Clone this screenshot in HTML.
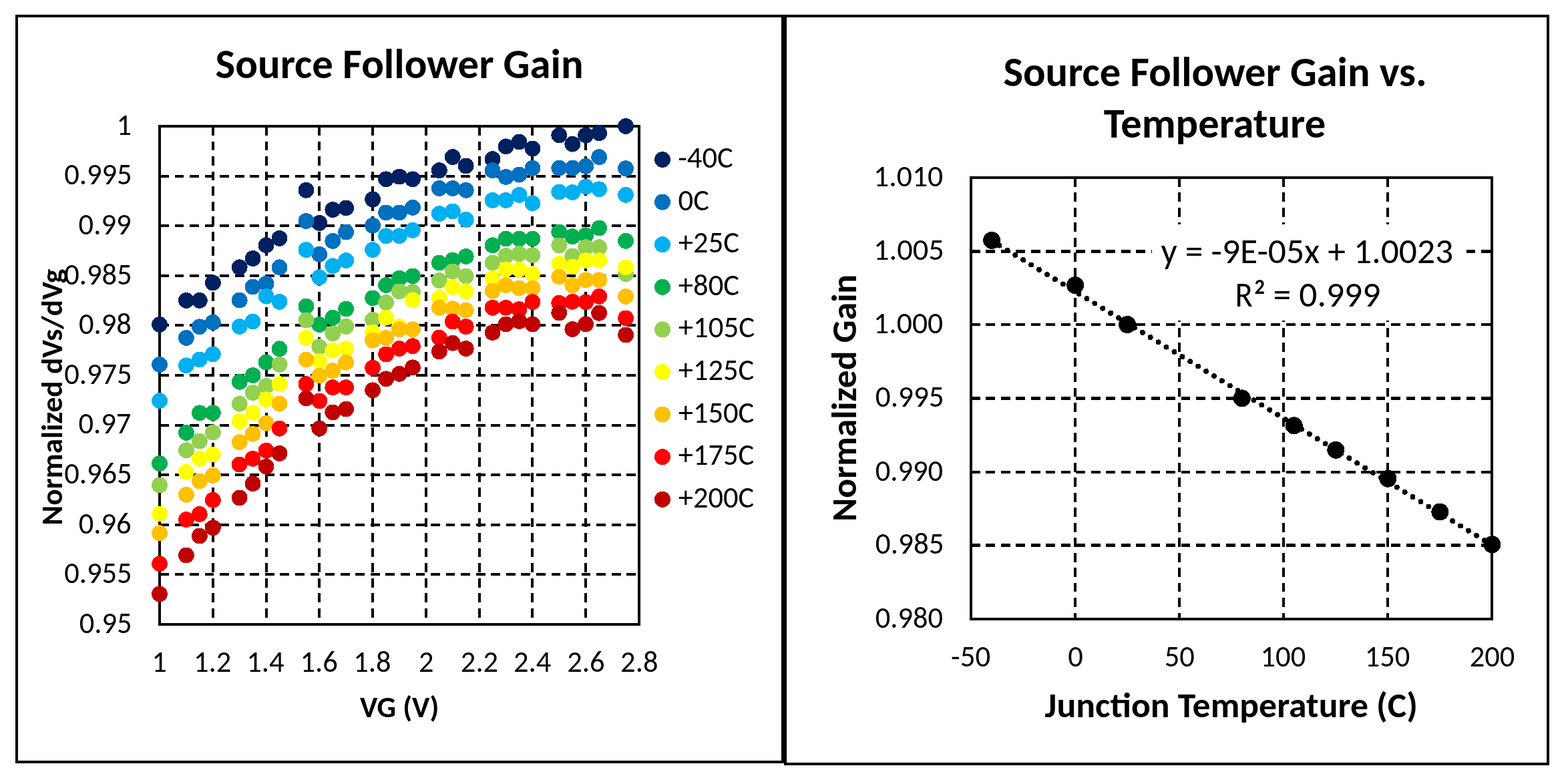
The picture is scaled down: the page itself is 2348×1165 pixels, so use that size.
<!DOCTYPE html>
<html><head><meta charset="utf-8"><title>Source Follower Gain</title>
<style>html,body{margin:0;padding:0;background:#fff;width:2348px;height:1165px;overflow:hidden}</style>
</head><body>
<svg width="2348" height="1165" viewBox="0 0 2348 1165" style="display:block" shape-rendering="crispEdges">
<rect x="0" y="0" width="2348" height="1165" fill="#fff"/>
<g font-family="Carlito, 'Liberation Sans', Arial, sans-serif" fill="#000">
<rect x="25" y="24" width="1146.5" height="1117" fill="none" stroke="#000" stroke-width="4"/>
<line x1="318.78" y1="189.0" x2="318.78" y2="935.0" stroke="#000" stroke-width="4" stroke-dasharray="13.8 8.76"/>
<line x1="398.56" y1="189.0" x2="398.56" y2="935.0" stroke="#000" stroke-width="4" stroke-dasharray="13.8 8.76"/>
<line x1="478.33" y1="189.0" x2="478.33" y2="935.0" stroke="#000" stroke-width="4" stroke-dasharray="13.8 8.76"/>
<line x1="558.11" y1="189.0" x2="558.11" y2="935.0" stroke="#000" stroke-width="4" stroke-dasharray="13.8 8.76"/>
<line x1="637.89" y1="189.0" x2="637.89" y2="935.0" stroke="#000" stroke-width="4" stroke-dasharray="13.8 8.76"/>
<line x1="717.67" y1="189.0" x2="717.67" y2="935.0" stroke="#000" stroke-width="4" stroke-dasharray="13.8 8.76"/>
<line x1="797.44" y1="189.0" x2="797.44" y2="935.0" stroke="#000" stroke-width="4" stroke-dasharray="13.8 8.76"/>
<line x1="877.22" y1="189.0" x2="877.22" y2="935.0" stroke="#000" stroke-width="4" stroke-dasharray="13.8 8.76"/>
<line x1="239.0" y1="263.60" x2="957.0" y2="263.60" stroke="#000" stroke-width="4" stroke-dasharray="13.8 8.76"/>
<line x1="239.0" y1="338.20" x2="957.0" y2="338.20" stroke="#000" stroke-width="4" stroke-dasharray="13.8 8.76"/>
<line x1="239.0" y1="412.80" x2="957.0" y2="412.80" stroke="#000" stroke-width="4" stroke-dasharray="13.8 8.76"/>
<line x1="239.0" y1="487.40" x2="957.0" y2="487.40" stroke="#000" stroke-width="4" stroke-dasharray="13.8 8.76"/>
<line x1="239.0" y1="562.00" x2="957.0" y2="562.00" stroke="#000" stroke-width="4" stroke-dasharray="13.8 8.76"/>
<line x1="239.0" y1="636.60" x2="957.0" y2="636.60" stroke="#000" stroke-width="4" stroke-dasharray="13.8 8.76"/>
<line x1="239.0" y1="711.20" x2="957.0" y2="711.20" stroke="#000" stroke-width="4" stroke-dasharray="13.8 8.76"/>
<line x1="239.0" y1="785.80" x2="957.0" y2="785.80" stroke="#000" stroke-width="4" stroke-dasharray="13.8 8.76"/>
<line x1="239.0" y1="860.40" x2="957.0" y2="860.40" stroke="#000" stroke-width="4" stroke-dasharray="13.8 8.76"/>
<rect x="239.0" y="189.0" width="718.0" height="746.0" fill="none" stroke="#000" stroke-width="4"/>
<circle cx="239.0" cy="485.9" r="11.9" fill="#002060"/>
<circle cx="278.9" cy="449.9" r="11.9" fill="#002060"/>
<circle cx="298.8" cy="449.9" r="11.9" fill="#002060"/>
<circle cx="318.8" cy="423.5" r="11.9" fill="#002060"/>
<circle cx="358.7" cy="400.3" r="11.9" fill="#002060"/>
<circle cx="378.6" cy="387.0" r="11.9" fill="#002060"/>
<circle cx="398.6" cy="367.2" r="11.9" fill="#002060"/>
<circle cx="418.5" cy="356.8" r="11.9" fill="#002060"/>
<circle cx="458.4" cy="284.8" r="11.9" fill="#002060"/>
<circle cx="478.3" cy="333.9" r="11.9" fill="#002060"/>
<circle cx="498.3" cy="314.0" r="11.9" fill="#002060"/>
<circle cx="518.2" cy="311.4" r="11.9" fill="#002060"/>
<circle cx="558.1" cy="298.5" r="11.9" fill="#002060"/>
<circle cx="578.1" cy="268.3" r="11.9" fill="#002060"/>
<circle cx="598.0" cy="264.6" r="11.9" fill="#002060"/>
<circle cx="617.9" cy="268.3" r="11.9" fill="#002060"/>
<circle cx="657.8" cy="255.2" r="11.9" fill="#002060"/>
<circle cx="677.8" cy="235.1" r="11.9" fill="#002060"/>
<circle cx="697.7" cy="248.4" r="11.9" fill="#002060"/>
<circle cx="737.6" cy="238.2" r="11.9" fill="#002060"/>
<circle cx="757.6" cy="219.3" r="11.9" fill="#002060"/>
<circle cx="777.5" cy="212.5" r="11.9" fill="#002060"/>
<circle cx="797.4" cy="222.5" r="11.9" fill="#002060"/>
<circle cx="837.3" cy="202.5" r="11.9" fill="#002060"/>
<circle cx="857.3" cy="215.7" r="11.9" fill="#002060"/>
<circle cx="877.2" cy="202.5" r="11.9" fill="#002060"/>
<circle cx="897.2" cy="199.3" r="11.9" fill="#002060"/>
<circle cx="937.1" cy="188.9" r="11.9" fill="#002060"/>
<circle cx="239.0" cy="545.9" r="11.9" fill="#0070C0"/>
<circle cx="278.9" cy="505.9" r="11.9" fill="#0070C0"/>
<circle cx="298.8" cy="489.3" r="11.9" fill="#0070C0"/>
<circle cx="318.8" cy="482.7" r="11.9" fill="#0070C0"/>
<circle cx="358.7" cy="449.6" r="11.9" fill="#0070C0"/>
<circle cx="378.6" cy="429.5" r="11.9" fill="#0070C0"/>
<circle cx="398.6" cy="424.8" r="11.9" fill="#0070C0"/>
<circle cx="418.5" cy="400.3" r="11.9" fill="#0070C0"/>
<circle cx="458.4" cy="331.0" r="11.9" fill="#0070C0"/>
<circle cx="478.3" cy="380.7" r="11.9" fill="#0070C0"/>
<circle cx="498.3" cy="360.9" r="11.9" fill="#0070C0"/>
<circle cx="518.2" cy="347.6" r="11.9" fill="#0070C0"/>
<circle cx="558.1" cy="337.6" r="11.9" fill="#0070C0"/>
<circle cx="578.1" cy="318.4" r="11.9" fill="#0070C0"/>
<circle cx="598.0" cy="318.4" r="11.9" fill="#0070C0"/>
<circle cx="617.9" cy="310.8" r="11.9" fill="#0070C0"/>
<circle cx="657.8" cy="282.0" r="11.9" fill="#0070C0"/>
<circle cx="677.8" cy="282.0" r="11.9" fill="#0070C0"/>
<circle cx="697.7" cy="284.8" r="11.9" fill="#0070C0"/>
<circle cx="737.6" cy="255.2" r="11.9" fill="#0070C0"/>
<circle cx="757.6" cy="265.0" r="11.9" fill="#0070C0"/>
<circle cx="777.5" cy="261.6" r="11.9" fill="#0070C0"/>
<circle cx="797.4" cy="251.8" r="11.9" fill="#0070C0"/>
<circle cx="837.3" cy="251.6" r="11.9" fill="#0070C0"/>
<circle cx="857.3" cy="251.6" r="11.9" fill="#0070C0"/>
<circle cx="877.2" cy="248.9" r="11.9" fill="#0070C0"/>
<circle cx="897.2" cy="235.2" r="11.9" fill="#0070C0"/>
<circle cx="937.1" cy="252.2" r="11.9" fill="#0070C0"/>
<circle cx="239.0" cy="600.1" r="11.9" fill="#00B0F0"/>
<circle cx="278.9" cy="547.3" r="11.9" fill="#00B0F0"/>
<circle cx="298.8" cy="538.4" r="11.9" fill="#00B0F0"/>
<circle cx="318.8" cy="530.4" r="11.9" fill="#00B0F0"/>
<circle cx="358.7" cy="489.0" r="11.9" fill="#00B0F0"/>
<circle cx="378.6" cy="481.5" r="11.9" fill="#00B0F0"/>
<circle cx="398.6" cy="443.7" r="11.9" fill="#00B0F0"/>
<circle cx="418.5" cy="451.8" r="11.9" fill="#00B0F0"/>
<circle cx="458.4" cy="374.1" r="11.9" fill="#00B0F0"/>
<circle cx="478.3" cy="415.3" r="11.9" fill="#00B0F0"/>
<circle cx="498.3" cy="398.3" r="11.9" fill="#00B0F0"/>
<circle cx="518.2" cy="390.1" r="11.9" fill="#00B0F0"/>
<circle cx="558.1" cy="374.1" r="11.9" fill="#00B0F0"/>
<circle cx="578.1" cy="353.3" r="11.9" fill="#00B0F0"/>
<circle cx="598.0" cy="353.3" r="11.9" fill="#00B0F0"/>
<circle cx="617.9" cy="344.8" r="11.9" fill="#00B0F0"/>
<circle cx="657.8" cy="320.1" r="11.9" fill="#00B0F0"/>
<circle cx="677.8" cy="316.4" r="11.9" fill="#00B0F0"/>
<circle cx="697.7" cy="328.8" r="11.9" fill="#00B0F0"/>
<circle cx="737.6" cy="299.9" r="11.9" fill="#00B0F0"/>
<circle cx="757.6" cy="299.9" r="11.9" fill="#00B0F0"/>
<circle cx="777.5" cy="291.8" r="11.9" fill="#00B0F0"/>
<circle cx="797.4" cy="304.3" r="11.9" fill="#00B0F0"/>
<circle cx="837.3" cy="287.5" r="11.9" fill="#00B0F0"/>
<circle cx="857.3" cy="288.0" r="11.9" fill="#00B0F0"/>
<circle cx="877.2" cy="279.5" r="11.9" fill="#00B0F0"/>
<circle cx="897.2" cy="283.3" r="11.9" fill="#00B0F0"/>
<circle cx="937.1" cy="291.8" r="11.9" fill="#00B0F0"/>
<circle cx="239.0" cy="694.0" r="11.9" fill="#00B050"/>
<circle cx="278.9" cy="647.9" r="11.9" fill="#00B050"/>
<circle cx="298.8" cy="618.3" r="11.9" fill="#00B050"/>
<circle cx="318.8" cy="618.3" r="11.9" fill="#00B050"/>
<circle cx="358.7" cy="571.8" r="11.9" fill="#00B050"/>
<circle cx="378.6" cy="562.0" r="11.9" fill="#00B050"/>
<circle cx="398.6" cy="542.5" r="11.9" fill="#00B050"/>
<circle cx="418.5" cy="522.3" r="11.9" fill="#00B050"/>
<circle cx="458.4" cy="458.7" r="11.9" fill="#00B050"/>
<circle cx="478.3" cy="486.1" r="11.9" fill="#00B050"/>
<circle cx="498.3" cy="475.7" r="11.9" fill="#00B050"/>
<circle cx="518.2" cy="462.5" r="11.9" fill="#00B050"/>
<circle cx="558.1" cy="446.4" r="11.9" fill="#00B050"/>
<circle cx="578.1" cy="427.0" r="11.9" fill="#00B050"/>
<circle cx="598.0" cy="416.6" r="11.9" fill="#00B050"/>
<circle cx="617.9" cy="413.4" r="11.9" fill="#00B050"/>
<circle cx="657.8" cy="393.6" r="11.9" fill="#00B050"/>
<circle cx="677.8" cy="389.6" r="11.9" fill="#00B050"/>
<circle cx="697.7" cy="384.0" r="11.9" fill="#00B050"/>
<circle cx="737.6" cy="367.3" r="11.9" fill="#00B050"/>
<circle cx="757.6" cy="357.5" r="11.9" fill="#00B050"/>
<circle cx="777.5" cy="357.5" r="11.9" fill="#00B050"/>
<circle cx="797.4" cy="357.5" r="11.9" fill="#00B050"/>
<circle cx="837.3" cy="347.5" r="11.9" fill="#00B050"/>
<circle cx="857.3" cy="354.2" r="11.9" fill="#00B050"/>
<circle cx="877.2" cy="352.3" r="11.9" fill="#00B050"/>
<circle cx="897.2" cy="341.5" r="11.9" fill="#00B050"/>
<circle cx="937.1" cy="360.8" r="11.9" fill="#00B050"/>
<circle cx="239.0" cy="726.5" r="11.9" fill="#92D050"/>
<circle cx="278.9" cy="674.2" r="11.9" fill="#92D050"/>
<circle cx="298.8" cy="660.6" r="11.9" fill="#92D050"/>
<circle cx="318.8" cy="647.5" r="11.9" fill="#92D050"/>
<circle cx="358.7" cy="604.7" r="11.9" fill="#92D050"/>
<circle cx="378.6" cy="588.0" r="11.9" fill="#92D050"/>
<circle cx="398.6" cy="578.0" r="11.9" fill="#92D050"/>
<circle cx="418.5" cy="545.9" r="11.9" fill="#92D050"/>
<circle cx="458.4" cy="479.5" r="11.9" fill="#92D050"/>
<circle cx="478.3" cy="519.2" r="11.9" fill="#92D050"/>
<circle cx="498.3" cy="499.3" r="11.9" fill="#92D050"/>
<circle cx="518.2" cy="488.9" r="11.9" fill="#92D050"/>
<circle cx="558.1" cy="478.9" r="11.9" fill="#92D050"/>
<circle cx="578.1" cy="453.1" r="11.9" fill="#92D050"/>
<circle cx="598.0" cy="436.4" r="11.9" fill="#92D050"/>
<circle cx="617.9" cy="437.0" r="11.9" fill="#92D050"/>
<circle cx="657.8" cy="420.0" r="11.9" fill="#92D050"/>
<circle cx="677.8" cy="406.4" r="11.9" fill="#92D050"/>
<circle cx="697.7" cy="413.6" r="11.9" fill="#92D050"/>
<circle cx="737.6" cy="393.6" r="11.9" fill="#92D050"/>
<circle cx="757.6" cy="383.0" r="11.9" fill="#92D050"/>
<circle cx="777.5" cy="380.2" r="11.9" fill="#92D050"/>
<circle cx="797.4" cy="382.1" r="11.9" fill="#92D050"/>
<circle cx="837.3" cy="367.4" r="11.9" fill="#92D050"/>
<circle cx="857.3" cy="383.4" r="11.9" fill="#92D050"/>
<circle cx="877.2" cy="370.2" r="11.9" fill="#92D050"/>
<circle cx="897.2" cy="370.2" r="11.9" fill="#92D050"/>
<circle cx="937.1" cy="410.3" r="11.9" fill="#92D050"/>
<circle cx="239.0" cy="769.5" r="11.9" fill="#FFFF00"/>
<circle cx="278.9" cy="706.8" r="11.9" fill="#FFFF00"/>
<circle cx="298.8" cy="686.8" r="11.9" fill="#FFFF00"/>
<circle cx="318.8" cy="680.4" r="11.9" fill="#FFFF00"/>
<circle cx="358.7" cy="630.9" r="11.9" fill="#FFFF00"/>
<circle cx="378.6" cy="618.3" r="11.9" fill="#FFFF00"/>
<circle cx="398.6" cy="598.2" r="11.9" fill="#FFFF00"/>
<circle cx="418.5" cy="575.2" r="11.9" fill="#FFFF00"/>
<circle cx="458.4" cy="505.9" r="11.9" fill="#FFFF00"/>
<circle cx="478.3" cy="540.9" r="11.9" fill="#FFFF00"/>
<circle cx="498.3" cy="524.8" r="11.9" fill="#FFFF00"/>
<circle cx="518.2" cy="522.0" r="11.9" fill="#FFFF00"/>
<circle cx="558.1" cy="497.4" r="11.9" fill="#FFFF00"/>
<circle cx="578.1" cy="475.7" r="11.9" fill="#FFFF00"/>
<circle cx="598.0" cy="489.1" r="11.9" fill="#FFFF00"/>
<circle cx="617.9" cy="449.3" r="11.9" fill="#FFFF00"/>
<circle cx="657.8" cy="446.1" r="11.9" fill="#FFFF00"/>
<circle cx="677.8" cy="430.0" r="11.9" fill="#FFFF00"/>
<circle cx="697.7" cy="436.3" r="11.9" fill="#FFFF00"/>
<circle cx="737.6" cy="416.8" r="11.9" fill="#FFFF00"/>
<circle cx="757.6" cy="403.6" r="11.9" fill="#FFFF00"/>
<circle cx="777.5" cy="403.6" r="11.9" fill="#FFFF00"/>
<circle cx="797.4" cy="410.2" r="11.9" fill="#FFFF00"/>
<circle cx="837.3" cy="395.1" r="11.9" fill="#FFFF00"/>
<circle cx="857.3" cy="399.5" r="11.9" fill="#FFFF00"/>
<circle cx="877.2" cy="390.0" r="11.9" fill="#FFFF00"/>
<circle cx="897.2" cy="390.0" r="11.9" fill="#FFFF00"/>
<circle cx="937.1" cy="400.4" r="11.9" fill="#FFFF00"/>
<circle cx="239.0" cy="798.2" r="11.9" fill="#FFC000"/>
<circle cx="278.9" cy="740.8" r="11.9" fill="#FFC000"/>
<circle cx="298.8" cy="720.4" r="11.9" fill="#FFC000"/>
<circle cx="318.8" cy="711.9" r="11.9" fill="#FFC000"/>
<circle cx="358.7" cy="662.1" r="11.9" fill="#FFC000"/>
<circle cx="378.6" cy="649.8" r="11.9" fill="#FFC000"/>
<circle cx="398.6" cy="633.7" r="11.9" fill="#FFC000"/>
<circle cx="418.5" cy="604.7" r="11.9" fill="#FFC000"/>
<circle cx="458.4" cy="538.6" r="11.9" fill="#FFC000"/>
<circle cx="478.3" cy="562.6" r="11.9" fill="#FFC000"/>
<circle cx="498.3" cy="555.0" r="11.9" fill="#FFC000"/>
<circle cx="518.2" cy="542.8" r="11.9" fill="#FFC000"/>
<circle cx="558.1" cy="509.7" r="11.9" fill="#FFC000"/>
<circle cx="578.1" cy="505.9" r="11.9" fill="#FFC000"/>
<circle cx="598.0" cy="493.3" r="11.9" fill="#FFC000"/>
<circle cx="617.9" cy="493.3" r="11.9" fill="#FFC000"/>
<circle cx="657.8" cy="460.8" r="11.9" fill="#FFC000"/>
<circle cx="677.8" cy="462.2" r="11.9" fill="#FFC000"/>
<circle cx="697.7" cy="464.6" r="11.9" fill="#FFC000"/>
<circle cx="737.6" cy="435.7" r="11.9" fill="#FFC000"/>
<circle cx="757.6" cy="427.2" r="11.9" fill="#FFC000"/>
<circle cx="777.5" cy="431.4" r="11.9" fill="#FFC000"/>
<circle cx="797.4" cy="431.4" r="11.9" fill="#FFC000"/>
<circle cx="837.3" cy="414.6" r="11.9" fill="#FFC000"/>
<circle cx="857.3" cy="427.3" r="11.9" fill="#FFC000"/>
<circle cx="877.2" cy="419.3" r="11.9" fill="#FFC000"/>
<circle cx="897.2" cy="419.3" r="11.9" fill="#FFC000"/>
<circle cx="937.1" cy="443.9" r="11.9" fill="#FFC000"/>
<circle cx="239.0" cy="844.1" r="11.9" fill="#FF0000"/>
<circle cx="278.9" cy="778.0" r="11.9" fill="#FF0000"/>
<circle cx="298.8" cy="769.9" r="11.9" fill="#FF0000"/>
<circle cx="318.8" cy="748.8" r="11.9" fill="#FF0000"/>
<circle cx="358.7" cy="695.5" r="11.9" fill="#FF0000"/>
<circle cx="378.6" cy="686.8" r="11.9" fill="#FF0000"/>
<circle cx="398.6" cy="674.7" r="11.9" fill="#FF0000"/>
<circle cx="418.5" cy="641.7" r="11.9" fill="#FF0000"/>
<circle cx="458.4" cy="575.2" r="11.9" fill="#FF0000"/>
<circle cx="478.3" cy="600.4" r="11.9" fill="#FF0000"/>
<circle cx="498.3" cy="580.2" r="11.9" fill="#FF0000"/>
<circle cx="518.2" cy="580.2" r="11.9" fill="#FF0000"/>
<circle cx="558.1" cy="550.7" r="11.9" fill="#FF0000"/>
<circle cx="578.1" cy="530.5" r="11.9" fill="#FF0000"/>
<circle cx="598.0" cy="522.0" r="11.9" fill="#FF0000"/>
<circle cx="617.9" cy="518.2" r="11.9" fill="#FF0000"/>
<circle cx="657.8" cy="505.6" r="11.9" fill="#FF0000"/>
<circle cx="677.8" cy="481.6" r="11.9" fill="#FF0000"/>
<circle cx="697.7" cy="489.2" r="11.9" fill="#FF0000"/>
<circle cx="737.6" cy="460.8" r="11.9" fill="#FF0000"/>
<circle cx="757.6" cy="460.8" r="11.9" fill="#FF0000"/>
<circle cx="777.5" cy="463.1" r="11.9" fill="#FF0000"/>
<circle cx="797.4" cy="452.1" r="11.9" fill="#FF0000"/>
<circle cx="837.3" cy="453.7" r="11.9" fill="#FF0000"/>
<circle cx="857.3" cy="451.8" r="11.9" fill="#FF0000"/>
<circle cx="877.2" cy="452.4" r="11.9" fill="#FF0000"/>
<circle cx="897.2" cy="443.9" r="11.9" fill="#FF0000"/>
<circle cx="937.1" cy="476.4" r="11.9" fill="#FF0000"/>
<circle cx="239.0" cy="889.5" r="11.9" fill="#C00000"/>
<circle cx="278.9" cy="831.5" r="11.9" fill="#C00000"/>
<circle cx="298.8" cy="802.6" r="11.9" fill="#C00000"/>
<circle cx="318.8" cy="790.3" r="11.9" fill="#C00000"/>
<circle cx="358.7" cy="745.4" r="11.9" fill="#C00000"/>
<circle cx="378.6" cy="724.2" r="11.9" fill="#C00000"/>
<circle cx="398.6" cy="698.7" r="11.9" fill="#C00000"/>
<circle cx="418.5" cy="678.9" r="11.9" fill="#C00000"/>
<circle cx="458.4" cy="596.6" r="11.9" fill="#C00000"/>
<circle cx="478.3" cy="641.5" r="11.9" fill="#C00000"/>
<circle cx="498.3" cy="617.4" r="11.9" fill="#C00000"/>
<circle cx="518.2" cy="612.6" r="11.9" fill="#C00000"/>
<circle cx="558.1" cy="584.3" r="11.9" fill="#C00000"/>
<circle cx="578.1" cy="567.3" r="11.9" fill="#C00000"/>
<circle cx="598.0" cy="559.8" r="11.9" fill="#C00000"/>
<circle cx="617.9" cy="550.3" r="11.9" fill="#C00000"/>
<circle cx="657.8" cy="526.4" r="11.9" fill="#C00000"/>
<circle cx="677.8" cy="513.7" r="11.9" fill="#C00000"/>
<circle cx="697.7" cy="522.0" r="11.9" fill="#C00000"/>
<circle cx="737.6" cy="498.0" r="11.9" fill="#C00000"/>
<circle cx="757.6" cy="485.4" r="11.9" fill="#C00000"/>
<circle cx="777.5" cy="481.0" r="11.9" fill="#C00000"/>
<circle cx="797.4" cy="485.4" r="11.9" fill="#C00000"/>
<circle cx="837.3" cy="468.4" r="11.9" fill="#C00000"/>
<circle cx="857.3" cy="493.0" r="11.9" fill="#C00000"/>
<circle cx="877.2" cy="485.4" r="11.9" fill="#C00000"/>
<circle cx="897.2" cy="468.8" r="11.9" fill="#C00000"/>
<circle cx="937.1" cy="501.5" r="11.9" fill="#C00000"/>
<text x="174.44" y="201.80" font-size="44.5" textLength="22.55" lengthAdjust="spacingAndGlyphs">1</text>
<text x="96.18" y="276.40" font-size="44.5" textLength="101.45" lengthAdjust="spacingAndGlyphs">0.995</text>
<text x="117.62" y="351.00" font-size="44.5" textLength="78.90" lengthAdjust="spacingAndGlyphs">0.99</text>
<text x="96.18" y="425.60" font-size="44.5" textLength="101.45" lengthAdjust="spacingAndGlyphs">0.985</text>
<text x="117.89" y="500.20" font-size="44.5" textLength="78.90" lengthAdjust="spacingAndGlyphs">0.98</text>
<text x="96.18" y="574.80" font-size="44.5" textLength="101.45" lengthAdjust="spacingAndGlyphs">0.975</text>
<text x="117.54" y="649.40" font-size="44.5" textLength="78.90" lengthAdjust="spacingAndGlyphs">0.97</text>
<text x="96.18" y="724.00" font-size="44.5" textLength="101.45" lengthAdjust="spacingAndGlyphs">0.965</text>
<text x="117.65" y="798.60" font-size="44.5" textLength="78.90" lengthAdjust="spacingAndGlyphs">0.96</text>
<text x="96.18" y="873.20" font-size="44.5" textLength="101.45" lengthAdjust="spacingAndGlyphs">0.955</text>
<text x="118.73" y="947.80" font-size="44.5" textLength="78.90" lengthAdjust="spacingAndGlyphs">0.95</text>
<text x="227.20" y="1005.80" font-size="44.5" textLength="22.55" lengthAdjust="spacingAndGlyphs">1</text>
<text x="290.03" y="1005.80" font-size="44.5" textLength="56.34" lengthAdjust="spacingAndGlyphs">1.2</text>
<text x="369.23" y="1005.80" font-size="44.5" textLength="56.34" lengthAdjust="spacingAndGlyphs">1.4</text>
<text x="449.41" y="1005.80" font-size="44.5" textLength="56.34" lengthAdjust="spacingAndGlyphs">1.6</text>
<text x="529.31" y="1005.80" font-size="44.5" textLength="56.34" lengthAdjust="spacingAndGlyphs">1.8</text>
<text x="626.96" y="1005.80" font-size="44.5" textLength="22.55" lengthAdjust="spacingAndGlyphs">2</text>
<text x="689.84" y="1005.80" font-size="44.5" textLength="56.34" lengthAdjust="spacingAndGlyphs">2.2</text>
<text x="769.04" y="1005.80" font-size="44.5" textLength="56.34" lengthAdjust="spacingAndGlyphs">2.4</text>
<text x="849.22" y="1005.80" font-size="44.5" textLength="56.34" lengthAdjust="spacingAndGlyphs">2.6</text>
<text x="929.12" y="1005.80" font-size="44.5" textLength="56.34" lengthAdjust="spacingAndGlyphs">2.8</text>
<text x="322.64" y="117.00" font-size="62" font-weight="bold" textLength="551.02" lengthAdjust="spacingAndGlyphs">Source Follower Gain</text>
<text x="538.88" y="1073.90" font-size="44.8" font-weight="bold" textLength="118.53" lengthAdjust="spacingAndGlyphs">VG (V)</text>
<g transform="translate(92.8,0) rotate(-90)"><text x="-786.67" y="0.00" font-size="44.8" font-weight="bold" textLength="383.95" lengthAdjust="spacingAndGlyphs">Normalized dVs/dVg</text></g>
<circle cx="992" cy="239.0" r="12" fill="#002060"/>
<text x="1015.17" y="251.00" font-size="44.5" textLength="82.71" lengthAdjust="spacingAndGlyphs">-40C</text>
<circle cx="992" cy="302.6" r="12" fill="#0070C0"/>
<text x="1015.64" y="314.60" font-size="44.5" textLength="46.43" lengthAdjust="spacingAndGlyphs">0C</text>
<circle cx="992" cy="366.2" r="12" fill="#00B0F0"/>
<text x="1015.80" y="378.20" font-size="44.5" textLength="91.27" lengthAdjust="spacingAndGlyphs">+25C</text>
<circle cx="992" cy="429.8" r="12" fill="#00B050"/>
<text x="1015.80" y="441.80" font-size="44.5" textLength="91.27" lengthAdjust="spacingAndGlyphs">+80C</text>
<circle cx="992" cy="493.4" r="12" fill="#92D050"/>
<text x="1015.79" y="505.40" font-size="44.5" textLength="114.48" lengthAdjust="spacingAndGlyphs">+105C</text>
<circle cx="992" cy="557.0" r="12" fill="#FFFF00"/>
<text x="1015.80" y="569.00" font-size="44.5" textLength="113.55" lengthAdjust="spacingAndGlyphs">+125C</text>
<circle cx="992" cy="620.6" r="12" fill="#FFC000"/>
<text x="1015.80" y="632.60" font-size="44.5" textLength="113.55" lengthAdjust="spacingAndGlyphs">+150C</text>
<circle cx="992" cy="684.2" r="12" fill="#FF0000"/>
<text x="1015.80" y="696.20" font-size="44.5" textLength="113.55" lengthAdjust="spacingAndGlyphs">+175C</text>
<circle cx="992" cy="747.8" r="12" fill="#C00000"/>
<text x="1015.80" y="759.80" font-size="44.5" textLength="113.55" lengthAdjust="spacingAndGlyphs">+200C</text>
</g>
<g font-family="Carlito, 'Liberation Sans', Arial, sans-serif" fill="#000">
<rect x="1175.75" y="24" width="1142" height="1120" fill="none" stroke="#000" stroke-width="4.5"/>
<line x1="1610.08" y1="266.0" x2="1610.08" y2="926.8" stroke="#000" stroke-width="4" stroke-dasharray="13.8 8.67"/>
<line x1="1766.16" y1="266.0" x2="1766.16" y2="926.8" stroke="#000" stroke-width="4" stroke-dasharray="13.8 8.67"/>
<line x1="1922.24" y1="266.0" x2="1922.24" y2="926.8" stroke="#000" stroke-width="4" stroke-dasharray="13.8 8.67"/>
<line x1="2078.32" y1="266.0" x2="2078.32" y2="926.8" stroke="#000" stroke-width="4" stroke-dasharray="13.8 8.67"/>
<line x1="1454.0" y1="376.50" x2="2234.4" y2="376.50" stroke="#000" stroke-width="4.4" stroke-dasharray="13.8 8.67"/>
<line x1="1454.0" y1="485.90" x2="2234.4" y2="485.90" stroke="#000" stroke-width="4.4" stroke-dasharray="13.8 8.67"/>
<line x1="1454.0" y1="596.50" x2="2234.4" y2="596.50" stroke="#000" stroke-width="4.4" stroke-dasharray="13.8 8.67"/>
<line x1="1454.0" y1="707.00" x2="2234.4" y2="707.00" stroke="#000" stroke-width="4.4" stroke-dasharray="13.8 8.67"/>
<line x1="1454.0" y1="816.30" x2="2234.4" y2="816.30" stroke="#000" stroke-width="4.4" stroke-dasharray="13.8 8.67"/>
<rect x="1454.0" y="266.0" width="780.4000000000001" height="660.8" fill="none" stroke="#000" stroke-width="4"/>
<line x1="1484.60" y1="360.29" x2="2234.10" y2="816.13" stroke="#000" stroke-width="8" stroke-linecap="round" stroke-dasharray="0 13.934"/>
<circle cx="1485.2" cy="359.9" r="13" fill="#000"/>
<circle cx="1610.1" cy="427.2" r="13" fill="#000"/>
<circle cx="1688.1" cy="486.0" r="13" fill="#000"/>
<circle cx="1859.8" cy="596.4" r="13" fill="#000"/>
<circle cx="1937.8" cy="637.3" r="13" fill="#000"/>
<circle cx="2000.3" cy="673.8" r="13" fill="#000"/>
<circle cx="2078.3" cy="716.7" r="13" fill="#000"/>
<circle cx="2156.4" cy="766.5" r="13" fill="#000"/>
<circle cx="2234.4" cy="815.3" r="13" fill="#000"/>
<rect x="1725" y="336" width="465" height="144" fill="#fff"/>
<text x="1738.51" y="393.60" font-size="52.7" textLength="437.72" lengthAdjust="spacingAndGlyphs">y = -9E-05x + 1.0023</text>
<text x="1849.43" y="458.60" font-size="52.7" textLength="26.28" lengthAdjust="spacingAndGlyphs">R</text>
<text x="1878.38" y="439.80" font-size="32" font-weight="bold" textLength="15.37" lengthAdjust="spacingAndGlyphs">2</text>
<text x="1906.54" y="458.60" font-size="52.7" textLength="160.79" lengthAdjust="spacingAndGlyphs">= 0.999</text>
<text x="1308.05" y="278.90" font-size="44.5" textLength="104.13" lengthAdjust="spacingAndGlyphs">1.010</text>
<text x="1307.99" y="389.40" font-size="44.5" textLength="105.75" lengthAdjust="spacingAndGlyphs">1.005</text>
<text x="1308.05" y="498.80" font-size="44.5" textLength="104.13" lengthAdjust="spacingAndGlyphs">1.000</text>
<text x="1310.83" y="609.40" font-size="44.5" textLength="102.83" lengthAdjust="spacingAndGlyphs">0.995</text>
<text x="1310.85" y="719.90" font-size="44.5" textLength="101.30" lengthAdjust="spacingAndGlyphs">0.990</text>
<text x="1310.83" y="829.20" font-size="44.5" textLength="102.83" lengthAdjust="spacingAndGlyphs">0.985</text>
<text x="1310.85" y="939.70" font-size="44.5" textLength="101.30" lengthAdjust="spacingAndGlyphs">0.980</text>
<text x="1423.96" y="997.90" font-size="44.5" textLength="59.20" lengthAdjust="spacingAndGlyphs">-50</text>
<text x="1599.30" y="997.90" font-size="44.5" textLength="22.55" lengthAdjust="spacingAndGlyphs">0</text>
<text x="1743.67" y="997.90" font-size="44.5" textLength="45.11" lengthAdjust="spacingAndGlyphs">50</text>
<text x="1887.56" y="997.90" font-size="44.5" textLength="67.66" lengthAdjust="spacingAndGlyphs">100</text>
<text x="2043.64" y="997.90" font-size="44.5" textLength="67.66" lengthAdjust="spacingAndGlyphs">150</text>
<text x="2200.64" y="997.90" font-size="44.5" textLength="67.66" lengthAdjust="spacingAndGlyphs">200</text>
<text x="1502.44" y="129.00" font-size="62" font-weight="bold" textLength="634.23" lengthAdjust="spacingAndGlyphs">Source Follower Gain vs.</text>
<text x="1652.66" y="206.20" font-size="62" font-weight="bold" textLength="332.49" lengthAdjust="spacingAndGlyphs">Temperature</text>
<text x="1564.64" y="1074.20" font-size="52.6" font-weight="bold" textLength="558.30" lengthAdjust="spacingAndGlyphs">Junction Temperature (C)</text>
<g transform="translate(1282.1,0) rotate(-90)"><text x="-780.98" y="0.00" font-size="52.6" font-weight="bold" textLength="370.07" lengthAdjust="spacingAndGlyphs">Normalized Gain</text></g>
</g>
</svg>
<script>
(function(){
  try {
    var c = document.createElement('canvas').getContext('2d');
    var s = 'Source Follower Gain 0.995 -40C';
    c.font = '40px monospace'; var a = c.measureText(s).width;
    c.font = '40px Carlito, monospace'; var b = c.measureText(s).width;
    if (Math.abs(a - b) < 0.01) {
      var ts = document.querySelectorAll('svg text');
      for (var i = 0; i < ts.length; i++) {
        var fs = parseFloat(ts[i].getAttribute('font-size'));
        ts[i].setAttribute('font-size', (fs * 0.9).toFixed(2));
      }
    }
  } catch (e) {}
})();
</script>
</body></html>
